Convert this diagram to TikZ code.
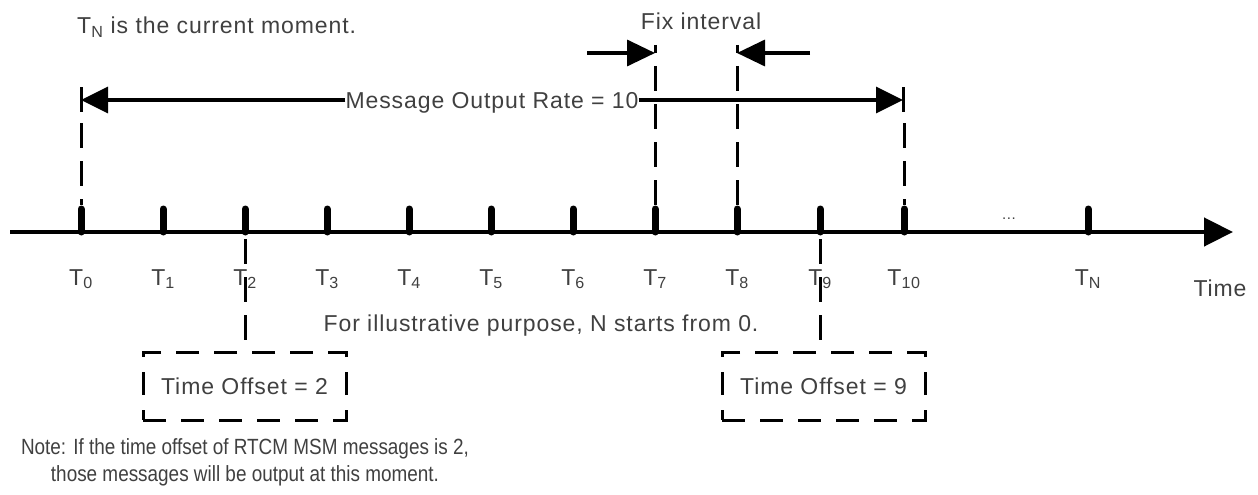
\documentclass[tikz,border=0pt]{standalone}
\usepackage{fontspec}
\setmainfont{Liberation Sans}[LetterSpace=4]
\newfontfamily\notefont{Liberation Sans}[FakeStretch=0.86]
\usetikzlibrary{arrows.meta}
\definecolor{txt}{RGB}{64,64,64}
\begin{document}
\begin{tikzpicture}[x=1pt,y=-1pt,
  font=\fontsize{23}{27.5}\selectfont,
  lbl/.style={text=txt, inner sep=0pt},
  tickmark/.style={line width=7pt, line cap=round},
  dsh/.style={line width=3pt, dash pattern=on 25pt off 13pt},
  dbox/.style={draw, line width=3pt, dash pattern=on 23pt off 15pt, text=txt,
    minimum width=203pt, minimum height=68pt, inner sep=0pt},
  axisline/.style={line width=4.5pt, -{Triangle[length=29pt,width=28pt]}},
  rate/.style={line width=3.5pt, -{Triangle[length=27pt,width=26pt]}},
  fix/.style={line width=3.5pt, -{Triangle[length=28pt,width=26pt]}},
  bar/.style={line width=3pt}]
\useasboundingbox (0,0) rectangle (1258,495);

% time axis
\coordinate (a0) at (10,232);
\coordinate (a1) at (1233,232);
\draw[axisline] (a0) -- (a1);

% ticks and labels
\foreach \i/\x in {0/81,1/163,2/245,3/327,4/409,5/491,6/573,7/655,8/737,9/820,10/904} {
  \coordinate (t\i) at (\x,232);
  \draw[tickmark] (\x,209) -- (t\i);
  \node[lbl, anchor=base] (l\i) at (\x,285) {T\textsubscript{\i}};
}
\coordinate (tN) at (1088,232);
\draw[tickmark] (1088,209) -- (tN);
\node[lbl, anchor=base] (lN) at (1088,285) {T\textsubscript{N}};
\node[lbl, anchor=base, font=\fontsize{15}{17}\selectfont] (dots) at (1009,219) {...};
\node[lbl, anchor=base] (time) at (1220,296) {Time};

% top text
\node[lbl, anchor=base west] (cur) at (77,34) {T\textsubscript{N} is the current moment.};

% message output rate
\coordinate (bL1) at (81,87);
\coordinate (bL2) at (81,112);
\coordinate (bR1) at (903,87);
\coordinate (bR2) at (903,112);
\coordinate (mL) at (81,100);
\coordinate (mR) at (903,100);
\draw[bar] (bL1) -- (bL2);
\draw[bar] (bR1) -- (bR2);
\node[lbl, anchor=base] (msg) at (492,108) {Message Output Rate = 10};
\draw[rate] (msg.west |- mL) -- (mL);
\draw[rate] (msg.east |- mR) -- (mR);

% vertical dashed guides
\coordinate (d0) at (81,123);
\coordinate (d10) at (904,123);
\coordinate (d7) at (655,45);
\coordinate (d8) at (737,45);
\draw[dsh] (d0) -- (81,205);
\draw[dsh] (d10) -- (904,205);
\draw[dsh, dash phase=17pt] (d7) -- (655,205);
\draw[dsh, dash phase=17pt] (d8) -- (737,205);

% fix interval
\node[lbl, anchor=base] (fixt) at (701,30) {Fix interval};
\coordinate (f7) at (655,53);
\coordinate (f8) at (737,53);
\coordinate (f7s) at (587,53);
\coordinate (f8s) at (810,53);
\draw[fix] (f7s) -- (f7);
\draw[fix] (f8s) -- (f8);

% illustrative note
\node[lbl, anchor=base] (illu) at (541,331) {For illustrative purpose, N starts from 0.};

% time offset boxes
\node[dbox] (box1) at (244.5,386) {Time Offset = 2};
\node[dbox] (box2) at (823.5,386) {Time Offset = 9};
\draw[dsh, dash phase=31pt] (t2) -- (t2 |- box1.north);
\draw[dsh, dash phase=31pt] (t9) -- (t9 |- box2.north);

% note
\node[lbl, anchor=north, align=center, font=\notefont\fontsize{22}{27.5}\selectfont] (note) at (245,438)
  {Note: If the time offset of RTCM MSM messages is 2,\\those messages will be output at this moment.};
\end{tikzpicture}
\end{document}
